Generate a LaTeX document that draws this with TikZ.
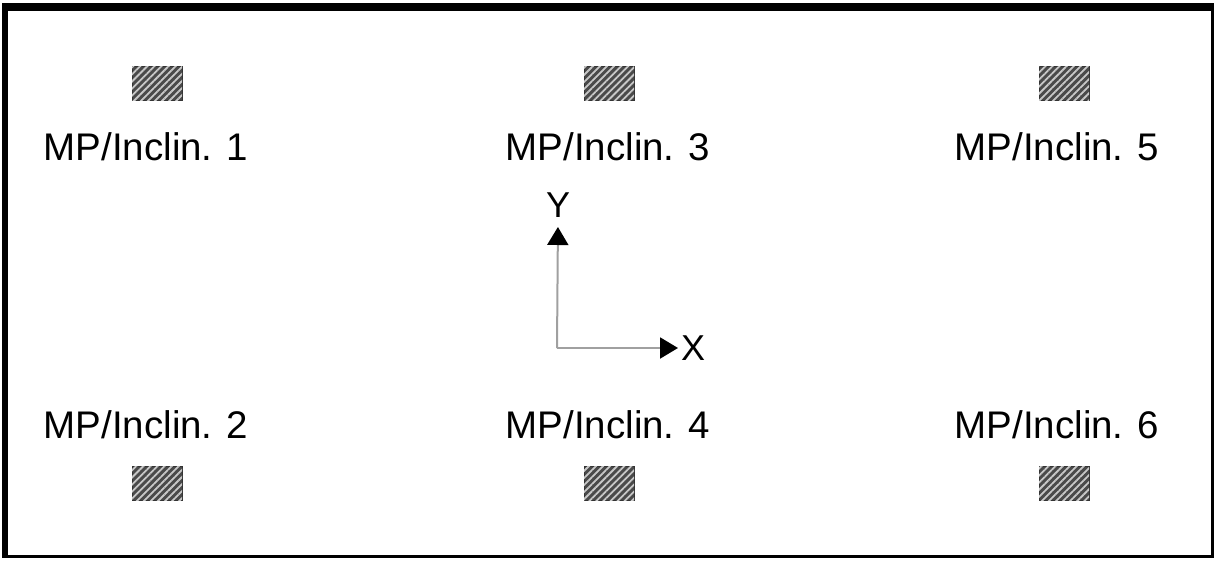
\documentclass[tikz,border=0pt]{standalone}
\usepackage{fontspec}
\setmainfont{Liberation Sans}
\usepackage{xcolor}
\usepackage{tikz}
\usetikzlibrary{arrows.meta, patterns.meta}
\definecolor{hatchDark}{HTML}{4A4A4A}
\definecolor{hatchLight}{HTML}{C8C8C8}
\definecolor{axisGray}{HTML}{A0A0A0}

\tikzset{
  gauge/.style={draw=black!80, line width=1pt, minimum width=50pt, minimum height=34pt,
    inner sep=0pt, fill=hatchDark,
    postaction={pattern={Lines[angle=45, distance=5pt, line width=1.8pt]}, pattern color=hatchLight}},
  gaugelabel/.style={font=\fontsize{38.5}{44}\selectfont, inner sep=0pt},
  axislabel/.style={font=\fontsize{36}{40}\selectfont, inner sep=0pt},
  axisline/.style={draw=axisGray, line width=2pt, -{Triangle[length=18pt, width=21pt, color=black]}}
}

\begin{document}
\begin{tikzpicture}[x=1pt, y=-1pt]
  \useasboundingbox (0,0) rectangle (1215,560);
  % frame, heavier on top and left
  \fill[black] (2,3) rectangle (1214,558);
  \fill[white] (8,11) rectangle (1211,555);
  % column positions (markers, labels)
  \def\xa{157}\def\xb{609}\def\xc{1064}
  \def\la{146}\def\lb{608}\def\lc{1057}
  % top row
  \node[gauge] (g1) at (\xa,83) {};
  \node[gauge] (g3) at (\xb,83) {};
  \node[gauge] (g5) at (\xc,83) {};
  \node[gaugelabel, anchor=base] (t1) at (\la,160) {MP/Inclin. 1};
  \node[gaugelabel, anchor=base] (t3) at (\lb,160) {MP/Inclin. 3};
  \node[gaugelabel, anchor=base] (t5) at (\lc,160) {MP/Inclin. 5};
  % bottom row
  \node[gaugelabel, anchor=base] (t2) at (\la,438) {MP/Inclin. 2};
  \node[gaugelabel, anchor=base] (t4) at (\lb,438) {MP/Inclin. 4};
  \node[gaugelabel, anchor=base] (t6) at (\lc,438) {MP/Inclin. 6};
  \node[gauge] (g2) at (\xa,483) {};
  \node[gauge] (g4) at (\xb,483) {};
  \node[gauge] (g6) at (\xc,483) {};
  % axes
  \coordinate (O) at (557,348);
  \node[axislabel, anchor=west] (xl) at (681,348) {X};
  \node[axislabel, anchor=south] (yl) at (558,218) {Y};
  \draw[axisline, shorten >=3pt] (O) -- (xl.west);
  \draw[axisline, shorten >=9pt] (O) -- (yl.south);
\end{tikzpicture}
\end{document}
